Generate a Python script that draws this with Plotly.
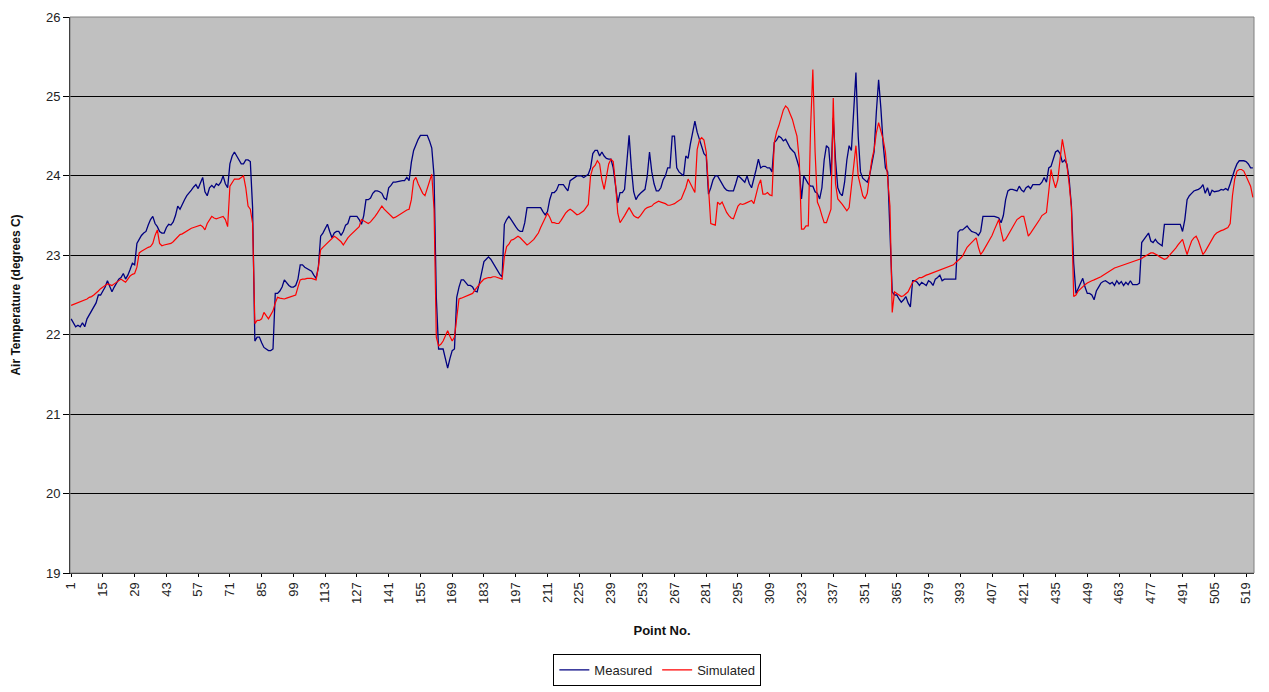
import plotly.graph_objects as go

measured = [
    22.20, 22.15, 22.10, 22.12, 22.10, 22.15, 22.10, 22.20, 22.25, 22.30,
    22.35, 22.40, 22.50, 22.50, 22.55, 22.60, 22.68, 22.60, 22.54, 22.60,
    22.65, 22.70, 22.72, 22.77, 22.70, 22.75, 22.82, 22.90, 22.88, 23.15,
    23.20, 23.25, 23.28, 23.30, 23.38, 23.45, 23.49, 23.40, 23.36, 23.30,
    23.28, 23.28, 23.35, 23.39, 23.38, 23.42, 23.50, 23.62, 23.58, 23.65,
    23.70, 23.75, 23.78, 23.82, 23.86, 23.89, 23.84, 23.90, 23.98, 23.80,
    23.75, 23.85, 23.88, 23.85, 23.90, 23.88, 23.92, 24.00, 23.90, 23.85,
    24.15, 24.25, 24.30, 24.25, 24.20, 24.15, 24.15, 24.20, 24.20, 24.18,
    23.60, 21.92, 21.97, 21.97, 21.90, 21.84, 21.82, 21.80, 21.80, 21.82,
    22.52, 22.52, 22.55, 22.60, 22.69, 22.65, 22.62, 22.60, 22.60, 22.62,
    22.70, 22.88, 22.88, 22.85, 22.83, 22.81, 22.80, 22.75, 22.71, 22.85,
    23.24, 23.28, 23.33, 23.39, 23.30, 23.22, 23.28, 23.30, 23.30, 23.25,
    23.30, 23.38, 23.40, 23.49, 23.49, 23.49, 23.49, 23.45, 23.39, 23.50,
    23.70, 23.70, 23.72, 23.78, 23.81, 23.81, 23.80, 23.78, 23.72, 23.70,
    23.85, 23.88, 23.92, 23.92, 23.93, 23.94, 23.94, 23.94, 23.98, 23.94,
    24.17, 24.32, 24.40, 24.46, 24.51, 24.51, 24.51, 24.51, 24.44, 24.35,
    24.00, 22.47, 21.82, 21.82, 21.82, 21.70, 21.58, 21.70, 21.80, 21.82,
    22.47, 22.60, 22.69, 22.69, 22.65, 22.62, 22.62, 22.60, 22.55, 22.54,
    22.65, 22.80, 22.92, 22.95, 22.98, 22.95, 22.90, 22.86, 22.80, 22.76,
    22.73, 23.39, 23.45, 23.49, 23.45, 23.40, 23.36, 23.32, 23.30, 23.30,
    23.41, 23.60, 23.60, 23.60, 23.60, 23.60, 23.60, 23.60, 23.55, 23.51,
    23.55, 23.70, 23.79, 23.79, 23.82, 23.89, 23.89, 23.89, 23.85, 23.81,
    23.94, 23.96, 23.98, 24.00, 24.00, 24.00, 23.98, 24.00, 24.02, 24.10,
    24.28, 24.32, 24.32, 24.25, 24.30, 24.25, 24.22, 24.21, 24.21, 24.10,
    23.90, 23.66, 23.79, 23.79, 23.83, 24.20, 24.51, 24.10, 23.80, 23.70,
    23.75, 23.78, 23.80, 23.83, 24.00, 24.30, 24.05, 23.90, 23.81, 23.81,
    23.85, 23.95, 24.00, 24.10, 24.10, 24.50, 24.50, 24.10, 24.05, 24.02,
    24.00, 24.25, 24.22, 24.40, 24.55, 24.69, 24.55, 24.46, 24.35, 24.28,
    24.25, 23.77, 23.85, 23.95, 24.00, 24.00, 23.95, 23.90, 23.85, 23.82,
    23.81, 23.81, 23.81, 23.90, 24.00, 23.98, 23.95, 23.92, 24.00, 23.90,
    23.85, 23.95, 24.08, 24.21, 24.10, 24.12, 24.12, 24.10, 24.10, 24.05,
    24.42, 24.45, 24.50, 24.48, 24.44, 24.46, 24.40, 24.35, 24.32, 24.29,
    24.20, 24.10, 23.71, 24.00, 23.95, 23.90, 23.87, 23.87, 23.80, 23.78,
    23.71, 23.85, 24.20, 24.38, 24.35, 24.00, 24.73, 24.20, 23.85, 23.78,
    23.75, 23.92, 24.20, 24.38, 24.32, 24.80, 25.30, 24.50, 24.05, 23.97,
    23.95, 23.92, 24.00, 24.15, 24.30, 24.80, 25.21, 24.85, 24.40, 24.10,
    24.05, 23.30, 22.54, 22.50, 22.50, 22.45, 22.41, 22.44, 22.48, 22.40,
    22.35, 22.68, 22.68, 22.66, 22.62, 22.66, 22.64, 22.62, 22.68, 22.66,
    22.62, 22.70, 22.72, 22.75, 22.68, 22.70, 22.70, 22.70, 22.70, 22.70,
    22.70, 23.29, 23.32, 23.32, 23.35, 23.37, 23.33, 23.30, 23.29, 23.28,
    23.25, 23.30, 23.49, 23.49, 23.49, 23.49, 23.49, 23.49, 23.48, 23.47,
    23.41, 23.50, 23.70, 23.81, 23.83, 23.83, 23.82, 23.81, 23.87, 23.82,
    23.80, 23.85, 23.87, 23.84, 23.89, 23.89, 23.89, 23.89, 23.92, 23.98,
    23.92, 24.10, 24.12, 24.20, 24.30, 24.32, 24.28, 24.17, 24.20, 24.15,
    23.96, 23.62, 22.90, 22.52, 22.58, 22.65, 22.71, 22.60, 22.52, 22.52,
    22.50, 22.44, 22.55, 22.60, 22.65, 22.67, 22.68, 22.66, 22.64, 22.66,
    22.62, 22.68, 22.64, 22.67, 22.62, 22.66, 22.63, 22.68, 22.63, 22.63,
    22.63, 22.65, 23.16, 23.20, 23.24, 23.28, 23.18, 23.16, 23.20, 23.16,
    23.14, 23.12, 23.39, 23.39, 23.39, 23.39, 23.39, 23.39, 23.39, 23.39,
    23.30, 23.45, 23.70, 23.75, 23.78, 23.81, 23.82, 23.83, 23.85, 23.89,
    23.78, 23.85, 23.75, 23.82, 23.80, 23.81, 23.81, 23.83, 23.82, 23.84,
    23.82, 23.90, 24.00, 24.08, 24.15, 24.19, 24.19, 24.19, 24.18, 24.15,
    24.10, 24.10,
]

simulated = [
    22.37, 22.38, 22.39, 22.40, 22.41, 22.42, 22.44, 22.45, 22.47, 22.48,
    22.50, 22.52, 22.55, 22.58, 22.60, 22.62, 22.64, 22.63, 22.62, 22.64,
    22.66, 22.68, 22.70, 22.68, 22.66, 22.70, 22.74, 22.76, 22.77, 22.85,
    23.03, 23.05, 23.07, 23.08, 23.10, 23.11, 23.15, 23.25, 23.32, 23.15,
    23.12, 23.13, 23.14, 23.15, 23.15, 23.17, 23.20, 23.23, 23.26, 23.27,
    23.29, 23.31, 23.33, 23.34, 23.35, 23.36, 23.37, 23.38, 23.36, 23.32,
    23.40, 23.45, 23.49, 23.47, 23.46, 23.47, 23.48, 23.49, 23.45, 23.36,
    23.87, 23.92, 23.96, 23.96, 23.96, 23.98, 24.00, 23.85, 23.62, 23.58,
    23.40, 22.14, 22.18, 22.18, 22.20, 22.28, 22.24, 22.20, 22.25, 22.30,
    22.40, 22.47, 22.46, 22.45, 22.45, 22.46, 22.47, 22.48, 22.49, 22.50,
    22.60, 22.69, 22.70, 22.70, 22.71, 22.71, 22.71, 22.70, 22.69, 22.85,
    23.07, 23.10, 23.13, 23.15, 23.18, 23.21, 23.24, 23.22, 23.20, 23.17,
    23.13, 23.18, 23.22, 23.25, 23.28, 23.30, 23.33, 23.36, 23.45, 23.43,
    23.41, 23.40, 23.42, 23.45, 23.49, 23.53, 23.58, 23.62, 23.58, 23.55,
    23.52, 23.49, 23.47, 23.48, 23.50, 23.51, 23.53, 23.55, 23.57, 23.58,
    23.70, 23.94, 23.98, 23.90, 23.83, 23.78, 23.75, 23.85, 23.94, 24.02,
    23.58, 21.97, 21.86, 21.88, 21.92, 21.98, 22.05, 21.98, 21.92, 21.97,
    22.22, 22.45, 22.46, 22.47, 22.48, 22.50, 22.51, 22.52, 22.56, 22.60,
    22.64, 22.67, 22.70, 22.71, 22.72, 22.72, 22.73, 22.73, 22.72, 22.71,
    22.70, 22.98, 23.11, 23.14, 23.19, 23.20, 23.22, 23.24, 23.22, 23.19,
    23.15, 23.13, 23.15, 23.17, 23.20, 23.24, 23.28, 23.35, 23.42, 23.47,
    23.53, 23.48, 23.41, 23.41, 23.40, 23.40, 23.44, 23.49, 23.53, 23.56,
    23.58, 23.56, 23.53, 23.51, 23.52, 23.54, 23.56, 23.60, 23.64, 24.00,
    24.10, 24.13, 24.19, 24.15, 23.95, 23.83, 24.00, 24.15, 24.21, 24.18,
    23.90, 23.53, 23.41, 23.45, 23.50, 23.55, 23.60, 23.55, 23.50, 23.48,
    23.47, 23.50, 23.54, 23.58, 23.60, 23.61, 23.62, 23.65, 23.67, 23.68,
    23.67, 23.66, 23.65, 23.63, 23.63, 23.64, 23.65, 23.67, 23.69, 23.71,
    23.78, 23.85, 23.96, 23.90, 23.85, 23.79, 24.33, 24.45, 24.48, 24.45,
    24.30, 23.88, 23.40, 23.39, 23.38, 23.67, 23.64, 23.67, 23.60, 23.54,
    23.50, 23.47, 23.46, 23.55, 23.62, 23.65, 23.64, 23.65, 23.66, 23.67,
    23.69, 23.65, 23.78, 23.88, 23.95, 23.77, 23.77, 23.79, 23.76, 23.75,
    24.42, 24.55, 24.63, 24.75, 24.83, 24.88, 24.85, 24.78, 24.71, 24.60,
    24.50, 24.21, 23.33, 23.33, 23.37, 23.37, 24.60, 25.34, 24.30, 23.67,
    23.60, 23.50, 23.41, 23.41, 23.50, 23.58, 24.98, 23.90, 23.71, 23.68,
    23.64, 23.60, 23.56, 23.60, 23.85, 24.10, 24.38, 24.00, 23.85, 23.75,
    23.71, 23.78, 24.00, 24.20, 24.33, 24.54, 24.67, 24.58, 24.46, 24.30,
    23.90, 23.62, 22.28, 22.54, 22.52, 22.50, 22.48, 22.49, 22.52, 22.54,
    22.60, 22.66, 22.68, 22.70, 22.72, 22.72, 22.74, 22.75, 22.76, 22.77,
    22.78, 22.79, 22.80, 22.81, 22.82, 22.83, 22.85, 22.86, 22.87, 22.88,
    22.91, 22.93, 22.96, 22.99, 23.05, 23.10, 23.13, 23.16, 23.20, 23.22,
    23.10, 23.01, 23.05, 23.10, 23.15, 23.20, 23.25, 23.32, 23.38, 23.45,
    23.30, 23.18, 23.20, 23.25, 23.30, 23.35, 23.40, 23.45, 23.47, 23.49,
    23.49, 23.35, 23.24, 23.28, 23.32, 23.36, 23.40, 23.45, 23.50, 23.52,
    23.54, 23.80, 24.08, 23.95, 23.85, 23.95, 24.20, 24.46, 24.30, 24.13,
    23.90, 23.60, 22.48, 22.50, 22.55, 22.58, 22.61, 22.63, 22.65, 22.67,
    22.68, 22.69, 22.70, 22.71, 22.73, 22.75, 22.77, 22.79, 22.81, 22.83,
    22.84, 22.85, 22.86, 22.87, 22.88, 22.89, 22.90, 22.91, 22.92, 22.93,
    22.94, 22.95, 22.96, 22.98, 23.00, 23.02, 23.03, 23.03, 23.02, 23.00,
    22.98, 22.97, 22.95, 22.96, 22.99, 23.02, 23.05, 23.09, 23.13, 23.17,
    23.20, 23.10, 23.01, 23.10, 23.18, 23.22, 23.24, 23.18, 23.10, 23.01,
    23.05, 23.10, 23.15, 23.20, 23.25, 23.28, 23.30, 23.31, 23.32, 23.33,
    23.35, 23.40, 23.75, 23.96, 24.06, 24.08, 24.08, 24.06, 24.00, 23.95,
    23.87, 23.73,
]

points = list(range(1, len(measured) + 1))
x_tick_values = list(range(1, len(measured) + 1, 14))
x_tick_labels = [str(v) for v in x_tick_values]
y_tick_values = [19, 20, 21, 22, 23, 24, 25, 26]

fig = go.Figure()
fig.add_trace(go.Scatter(x=points, y=measured, mode="lines", name="Measured",
                         line=dict(color="#000080", width=1.3)))
fig.add_trace(go.Scatter(x=points, y=simulated, mode="lines", name="Simulated",
                         line=dict(color="#FF0000", width=1.2)))

font_family = "Liberation Sans, Arial, sans-serif"

fig.update_layout(
    width=1269, height=692,
    margin=dict(l=70, r=15, t=17, b=119, autoexpand=False),
    paper_bgcolor="white",
    plot_bgcolor="#C0C0C0",
    font=dict(family=font_family, size=12, color="#222222"),
    showlegend=True,
    legend=dict(orientation="h", xref="container", yref="container",
                x=0.518, xanchor="center", y=0.055, yanchor="top",
                bordercolor="#000000", borderwidth=1, bgcolor="white",
                font=dict(size=13, color="#222222"), itemwidth=30, tracegroupgap=0),
    xaxis=dict(
        range=[0.5, len(measured) + 0.5], automargin=False,
        tickmode="array", tickvals=x_tick_values, ticktext=x_tick_labels,
        tickangle=-90, tickfont=dict(size=13, color="#222222"),
        showgrid=False, zeroline=False,
        showline=True, linecolor="#000000", linewidth=1,
        ticks="outside", ticklen=3, tickcolor="#000000",
        title=dict(text="<b>Point No.</b>", font=dict(size=13, color="#111111"), standoff=22),
    ),
    yaxis=dict(
        range=[19, 26], automargin=False,
        tickmode="array", tickvals=y_tick_values,
        tickfont=dict(size=13, color="#222222"),
        showgrid=True, gridcolor="#000000", gridwidth=1,
        zeroline=False,
        showline=True, linecolor="#000000", linewidth=1,
        ticks="outside", ticklen=6, tickcolor="#000000",
        title=dict(text="<b>Air Temperature (degrees C)</b>", font=dict(size=12, color="#111111"), standoff=22),
    ),
    shapes=[dict(type="rect", xref="paper", yref="paper", x0=0, x1=1, y0=0, y1=1,
                 line=dict(color="#808080", width=1), fillcolor="rgba(0,0,0,0)", layer="above")],
)

fig.write_html("out.html")
